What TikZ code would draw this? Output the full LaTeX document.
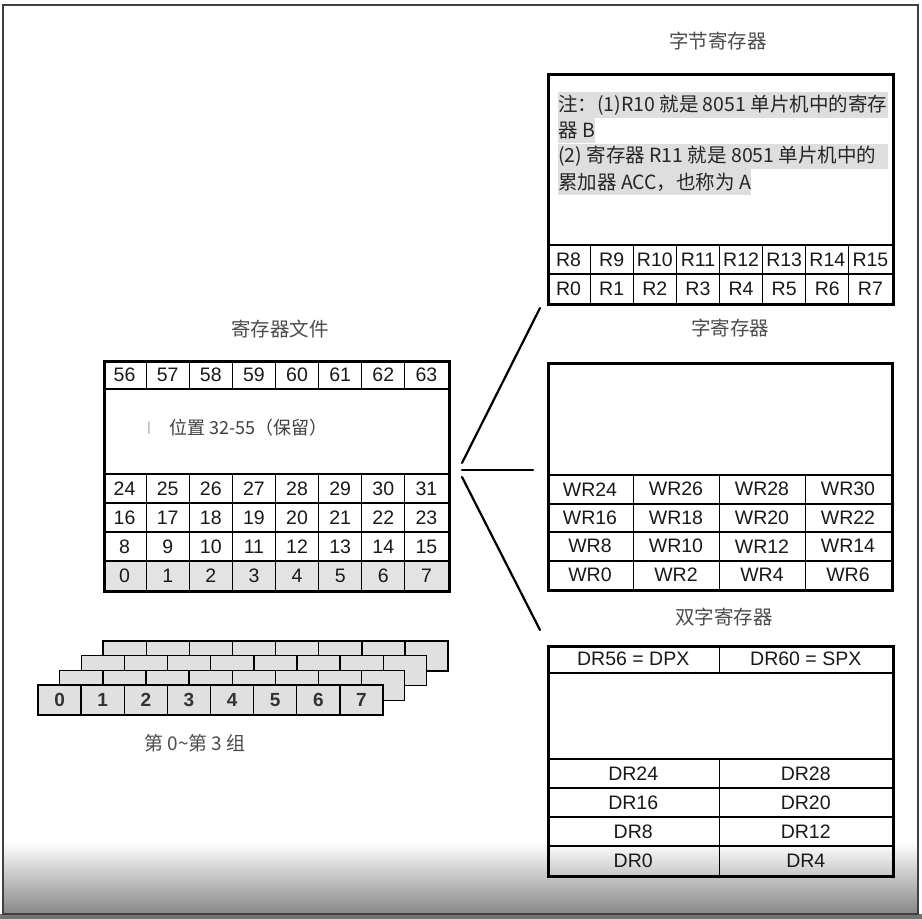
\documentclass[tikz,border=0pt]{standalone}
\usepackage{fontspec}
\setmainfont{Liberation Sans}
\newfontfamily\cjk{Noto Sans CJK SC}
\usepackage{tikz}

\tikzset{
	title/.style={font=\cjk\fontsize{19.5}{22}\selectfont, text=black!70, inner sep=0},
	cell/.style={draw, line width=1pt, inner sep=0, minimum width=#1, minimum height=29, font=\fontsize{19.5}{22}\selectfont, text=black!90},
	frame/.style={draw, line width=2.6pt, inner sep=0, anchor=north west},
	sep/.style={line width=2pt},
	hl/.style={fill=black!13, inner xsep=0, inner ysep=0, minimum height=25.7, anchor=west, text=black!85, font=\cjk\fontsize{19.5}{21}\selectfont},
	bank/.style={draw, line width=1.4pt, fill=black!12, inner sep=0, minimum width=43.125, minimum height=30, font=\bfseries\fontsize{19}{20}\selectfont, text=black!80},
	link/.style={line width=2.2pt, line cap=round}
}

\begin{document}
\begin{tikzpicture}[x=1pt,y=-1pt]
			\path[use as bounding box, fill=white] (0,0) rectangle (922,919);
			\fill[black!55] (0,914) rectangle (922,919);
			\shade[top color=white, bottom color=black!47] (3,842) rectangle (918,914);
			\draw[black!75, line width=1.5pt] (3,5) rectangle (918,914);

			\node[title] (byte-t) at (718,41) {字节寄存器};
			\node[frame, minimum width=345, minimum height=230] (byte) at (547,73) {};
			\node[hl] (note1) at (558,104.9) {\makebox[330pt][l]{注：(1)R10 就是 8051 单片机中的寄存}};
			\node[hl] (note2) at (558,130.6) {器 B};
			\node[hl] (note3) at (558,156.4) {\makebox[330pt][l]{(2) 寄存器 R11 就是 8051 单片机中的}};
			\node[hl] (note4) at (558,182.1) {累加器 ACC，也称为 A};
			\foreach \r in {0,1}
				\foreach \c in {0,...,7} {
					\pgfmathtruncatemacro\n{8*\r+\c}
					\node[cell=43.125] (r-\n) at ({547+43.125*(\c+.5)},{288.5-29*\r}) {R\n};
				}
			\foreach \y in {245,274} \draw[sep] (547,\y) -- (892,\y);
			\node[frame, minimum width=345, minimum height=230] at (547,73) {};

			\node[title] (rf-t) at (280,329) {寄存器文件};
			\foreach \r in {0,...,3}
				\foreach \c in {0,...,7} {
					\pgfmathtruncatemacro\n{8*\r+\c}
					\pgfmathtruncatemacro\shade{\r==0 ? 11 : 0}
					\node[cell=43.125, fill=black!\shade] (rf-\n) at ({103+43.125*(\c+.5)},{575.5-29*\r}) {\n};
				}
			\foreach \c in {0,...,7} {
				\pgfmathtruncatemacro\n{56+\c}
				\node[cell=43.125] (rf-\n) at ({103+43.125*(\c+.5)},374.5) {\n};
			}
			\node[text=black!40, font=\fontsize{13}{15}\selectfont] (cursor) at (149,428) {|};
			\node[anchor=west, text=black!75, font=\cjk\fontsize{18}{21}\selectfont] (resv) at (166,428) {位置 32-55（保留）};
			\foreach \y in {389,474,503,532,561} \draw[sep] (103,\y) -- (448,\y);
			\node[frame, minimum width=345, minimum height=230] (rf) at (103,360) {};

			\foreach \k in {3,2,1,0}
				\foreach \c in {0,...,7}
					\node[bank] (bank-\k-\c) at ({38+21.7*\k+43.125*(\c+.5)},{700-14.7*\k}) {\ifnum\k=0 \c\fi};
			\node[title, font=\cjk\fontsize{19}{21}\selectfont] (bank-t) at (195,743) {第 0\textasciitilde 第 3 组};

			\node[title] (word-t) at (730,328) {字寄存器};
			\foreach \r in {0,...,3}
				\foreach \c in {0,...,3} {
					\pgfmathtruncatemacro\n{8*\r+2*\c}
					\node[cell=86, minimum height=28.5] (wr-\n) at ({547+86*(\c+.5)},{574.75-28.5*\r}) {WR\n};
				}
			\foreach \y in {475,503.5,532,560.5} \draw[sep] (547,\y) -- (891,\y);
			\node[frame, minimum width=344, minimum height=227] (word) at (547,362) {};

			\node[title] (dbl-t) at (724,617) {双字寄存器};
			\node[cell=172.5, minimum height=28] (dpx) at (633.25,659) {DR56 = DPX};
			\node[cell=172.5, minimum height=28] (spx) at (805.75,659) {DR60 = SPX};
			\foreach \r in {0,...,3}
				\foreach \c in {0,1} {
					\pgfmathtruncatemacro\n{8*\r+4*\c}
					\node[cell=172.5] (dr-\n) at ({547+172.5*(\c+.5)},{860.5-29*\r}) {DR\n};
				}
			\foreach \y in {673,759,788,817,846} \draw[sep] (547,\y) -- (892,\y);
			\node[frame, minimum width=345, minimum height=230] (dbl) at (547,645) {};

			\coordinate (fanA) at (462,463);
			\coordinate (fanB) at (462,470);
			\coordinate (fanC) at (462,477);
			\coordinate (toByte) at (540,308);
			\coordinate (toWord) at (533,470);
			\coordinate (toDbl) at (540,630);
			\draw[link] (fanA) -- (toByte);
			\draw[link] (fanB) -- (toWord);
			\draw[link] (fanC) -- (toDbl);
		\end{tikzpicture}
\end{document}
